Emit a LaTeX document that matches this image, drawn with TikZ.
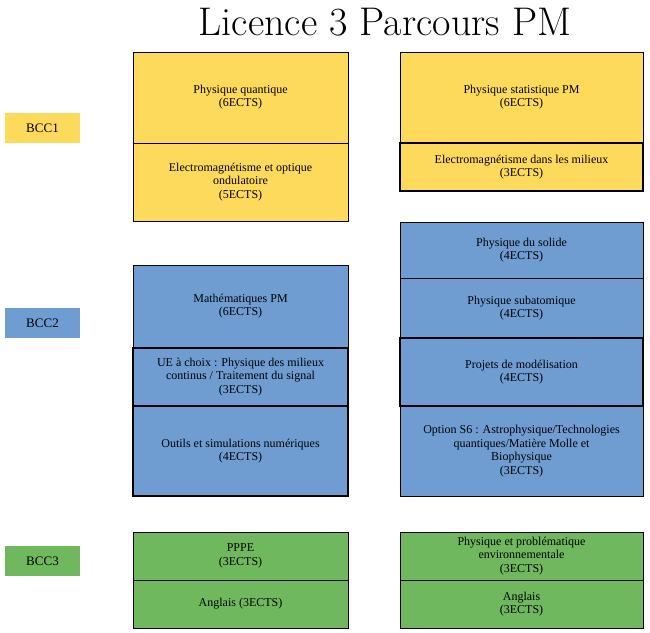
\documentclass[tikz,border=0pt]{standalone}
\usepackage{fontspec}
\setmainfont{Liberation Serif}
\newfontfamily\lmr{Latin Modern Roman}
\begin{document}
\begin{tikzpicture}[x=1pt,y=-1pt,
  yel/.style={fill=yellowc,draw=black,line width=0.8pt},
  blu/.style={fill=bluec,draw=black,line width=0.8pt},
  gre/.style={fill=greenc,draw=black,line width=0.8pt},
  thick box/.style={line width=1.5pt},
  txt/.style={align=center,font=\fontsize{12}{13.5}\selectfont},
  lab/.style={minimum width=75pt,minimum height=30pt,font=\fontsize{13}{14}\selectfont,inner sep=0pt}]
\definecolor{yellowc}{HTML}{FDD95C}
\definecolor{bluec}{HTML}{6F9DD2}
\definecolor{greenc}{HTML}{70B85E}
\useasboundingbox (0,0) rectangle (650,632);
\node[font=\lmr\fontsize{40}{40}\selectfont\scshape] (title) at (385,22) {Licence 3 Parcours PM};
% labels
\node[lab,fill=yellowc] (b1) at (42.5,128) {BCC1};
\node[lab,fill=bluec] (b2) at (42.5,323) {BCC2};
\node[lab,fill=greenc] (b3) at (42.5,561) {BCC3};
% BCC1
\draw[yel] (133,52) rectangle (348,143); \node[txt] (a1) at (240.5,97) {Physique quantique\\(6ECTS)};
\draw[yel] (133,143) rectangle (348,221); \node[txt] (a2) at (240.5,182) {Electromagnétisme et optique\\ondulatoire\\(5ECTS)};
\draw[yel] (400,52) rectangle (643,143); \node[txt] (a3) at (521.5,97) {Physique statistique PM\\(6ECTS)};
\draw[yel,thick box] (400,143) rectangle (643,191); \node[txt] (a4) at (521.5,167) {Electromagnétisme dans les milieux\\(3ECTS)};
% BCC2
\draw[blu] (133,265) rectangle (348,348); \node[txt] (c1) at (240.5,306) {Mathématiques PM\\(6ECTS)};
\draw[blu,thick box] (133,348) rectangle (348,406); \node[txt] (c2) at (240.5,377) {UE à choix : Physique des milieux\\continus / Traitement du signal\\(3ECTS)};
\draw[blu,thick box] (133,406) rectangle (348,496); \node[txt] (c3) at (240.5,451) {Outils et simulations numériques\\(4ECTS)};
\draw[blu] (400,222) rectangle (643,278); \node[txt] (d1) at (521.5,250) {Physique du solide\\(4ECTS)};
\draw[blu] (400,278) rectangle (643,338); \node[txt] (d2) at (521.5,308) {Physique subatomique\\(4ECTS)};
\draw[blu,thick box] (400,338) rectangle (643,406); \node[txt] (d3) at (521.5,372) {Projets de modélisation\\(4ECTS)};
\draw[blu] (400,406) rectangle (643,496); \node[txt] (d4) at (521.5,451) {Option S6 : Astrophysique/Technologies\\quantiques/Matière Molle et\\Biophysique\\(3ECTS)};
% BCC3
\draw[gre] (133,532) rectangle (348,580); \node[txt] (e1) at (240.5,556) {PPPE\\(3ECTS)};
\draw[gre] (133,580) rectangle (348,628); \node[txt] (e2) at (240.5,604) {Anglais (3ECTS)};
\draw[gre] (400,532) rectangle (643,580); \node[txt] (f1) at (521.5,556) {Physique et problématique\\environnementale\\(3ECTS)};
\draw[gre] (400,580) rectangle (643,628); \node[txt] (f2) at (521.5,604) {Anglais\\(3ECTS)};
\end{tikzpicture}
\end{document}
